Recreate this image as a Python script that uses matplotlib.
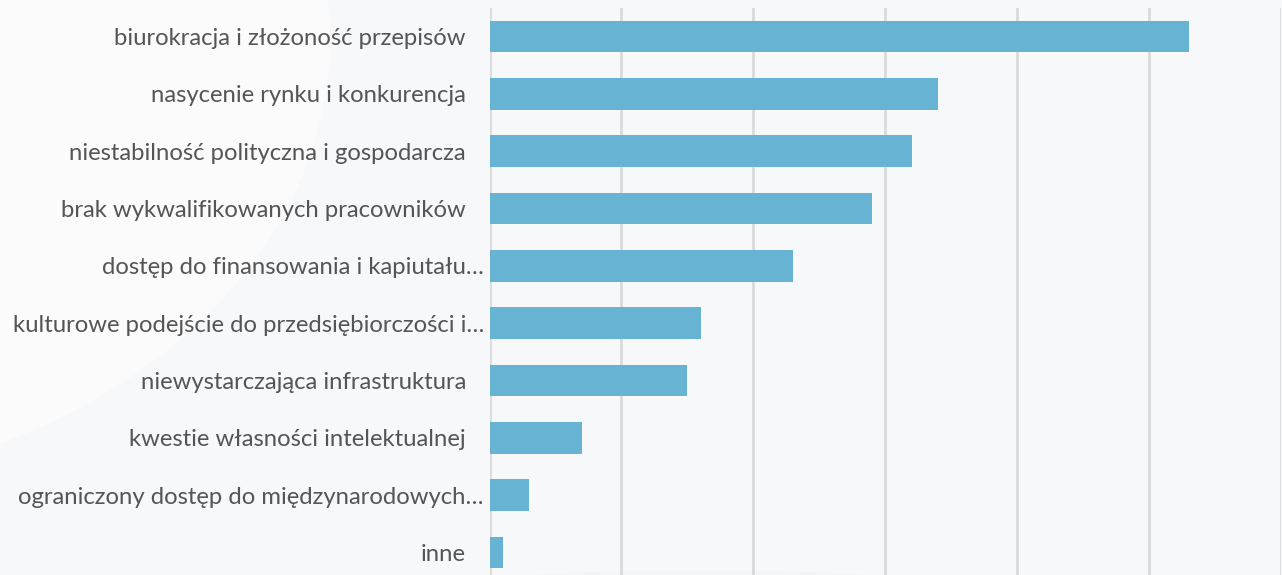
import matplotlib
matplotlib.use("Agg")
import matplotlib.pyplot as plt
from matplotlib.patches import Ellipse
from matplotlib.transforms import ScaledTranslation

categories = [
    "biurokracja i złożoność przepisów",
    "nasycenie rynku i konkurencja",
    "niestabilność polityczna i gospodarcza",
    "brak wykwalifikowanych pracowników",
    "dostęp do finansowania i kapiutału…",
    "kulturowe podejście do przedsiębiorczości i…",
    "niewystarczająca infrastruktura",
    "kwestie własności intelektualnej",
    "ograniczony dostęp do międzynarodowych…",
    "inne",
]
values = [53, 34, 32, 29, 23, 16, 15, 7, 3, 1]
truncated = [c.endswith("…") for c in categories]

fig = plt.figure(figsize=(12.82, 5.75), dpi=100)
fig.patch.set_facecolor("#f7f8fa")

# subtle decorative background shapes
bg = fig.add_axes([0, 0, 1, 1], zorder=-10)
bg.set_xlim(0, 1282)
bg.set_ylim(575, 0)
bg.axis("off")
bg.add_patch(Ellipse((-260, 40), 1180, 900, facecolor="#fbfbfc", edgecolor="none"))
bg.add_patch(Ellipse((700, 760), 1500, 380, facecolor="#f3f4f6", edgecolor="none", alpha=0.6))

W, H = 1282, 575
left, right = 489.5, 1281
top, bottom = 8, 581
ax = fig.add_axes([left / W, 1 - bottom / H, (right - left) / W, (bottom - top) / H])
ax.patch.set_alpha(0)

y = list(range(len(categories)))
ax.barh(y, values, height=0.55, color="#67b3d3", zorder=3)
ax.set_ylim(len(categories) - 0.5, -0.5)
ax.set_xlim(0, 60)
ax.set_xticks([0, 10, 20, 30, 40, 50, 60])
ax.tick_params(axis="x", length=0, labelbottom=False)
ax.grid(axis="x", color="#dadada", linewidth=2, zorder=0)
ax.set_axisbelow(True)
for s in ax.spines.values():
    s.set_visible(False)

ax.set_yticks(y)
ax.set_yticklabels(categories, fontsize=17.2, family=["Lato", "DejaVu Sans"], color="#555555")
ax.tick_params(axis="y", length=0, pad=4)
for lab, tr in zip(ax.get_yticklabels(), truncated):
    shift = 0 if tr else -18
    lab.set_transform(lab.get_transform() + ScaledTranslation(shift / 100, 0, fig.dpi_scale_trans))

fig.savefig("out.png", dpi=100, facecolor=fig.get_facecolor())
